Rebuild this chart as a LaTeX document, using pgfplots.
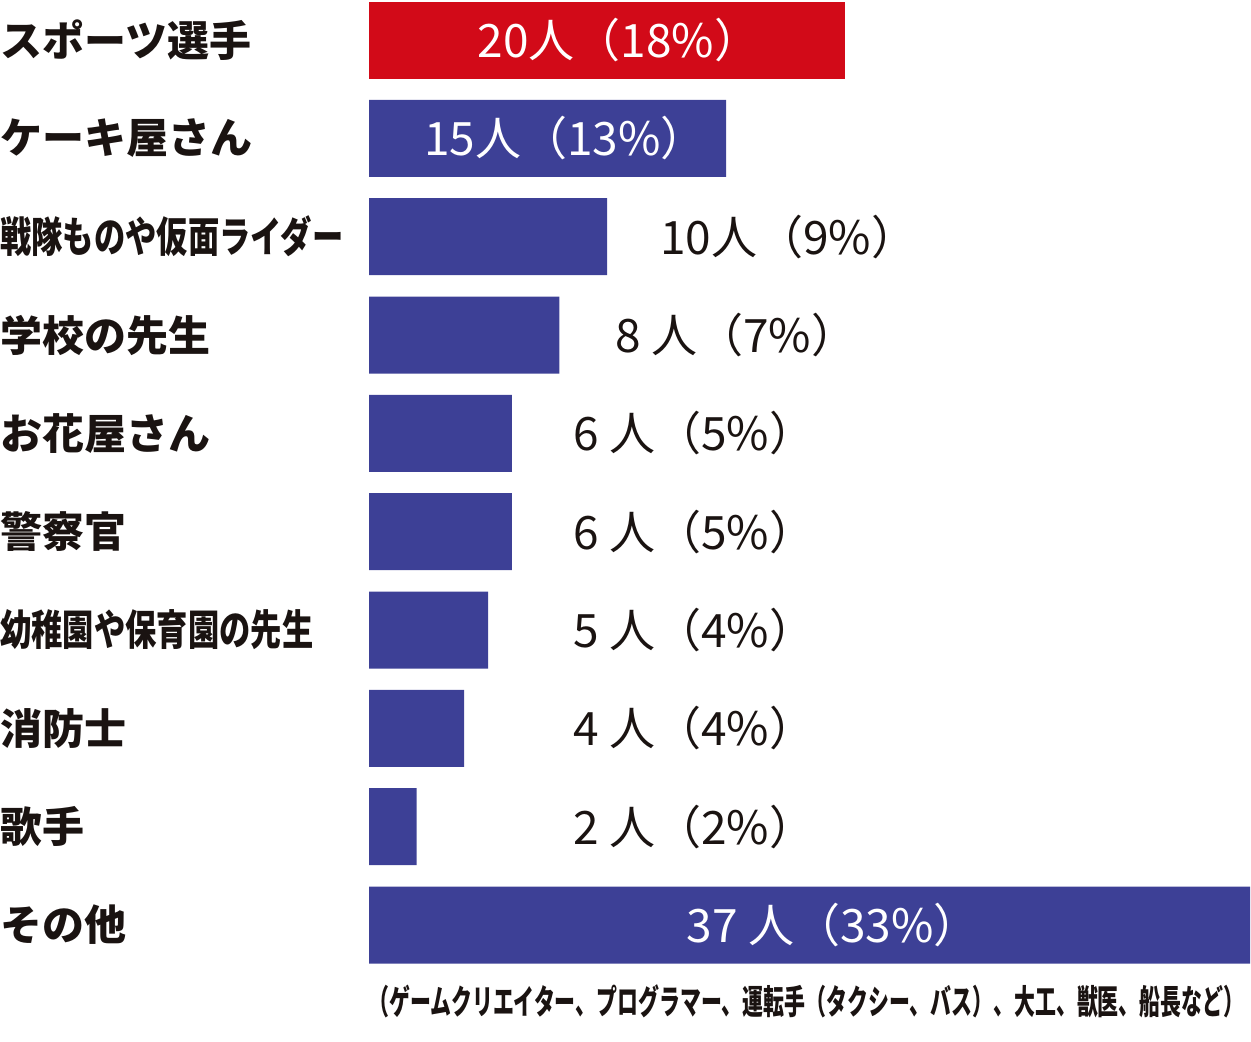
\documentclass[border=0pt]{standalone}
\usepackage{pgfplots}
\pgfplotsset{compat=1.18}
\usepackage{fontspec}
\setmainfont{Noto Sans CJK JP}
\definecolor{barred}{HTML}{D20A18}
\definecolor{barblue}{HTML}{3D4096}
\definecolor{txt}{HTML}{1A1311}
\begin{document}
\begin{tikzpicture}
\useasboundingbox (0,0) rectangle (625.5pt,-521pt);
\begin{axis}[
  at={(184.5pt,0pt)}, anchor=north west,
  scale only axis, width=440.5pt, height=487.1pt,
  xmin=0, xmax=37, ymin=-0.4068, ymax=9.5,
  y dir=reverse, axis lines=none, clip=false,
  xbar, bar width=38.5pt, bar shift=0pt,
]
\addplot[fill=barred, draw=none] coordinates {(20,0)};
\addplot[fill=barblue, draw=none] coordinates {(15,1) (10,2) (8,3) (6,4) (6,5) (5,6) (4,7) (2,8) (37,9)};
% category labels
\begin{scope}[every node/.style={anchor=west, inner sep=0pt, font=\fontsize{21pt}{23pt}\selectfont\bfseries, text=txt}]
\node at ([xshift=-184.5pt]axis cs:0,0) {スポーツ選手};
\node at ([xshift=-184.5pt]axis cs:0,1) {ケーキ屋さん};
\node at ([xshift=-184.5pt]axis cs:0,2) {\scalebox{0.745}[1]{戦隊ものや仮面ライダー}};
\node at ([xshift=-184.5pt]axis cs:0,3) {学校の先生};
\node at ([xshift=-184.5pt]axis cs:0,4) {お花屋さん};
\node at ([xshift=-184.5pt]axis cs:0,5) {警察官};
\node at ([xshift=-184.5pt]axis cs:0,6) {\scalebox{0.745}[1]{幼稚園や保育園の先生}};
\node at ([xshift=-184.5pt]axis cs:0,7) {消防士};
\node at ([xshift=-184.5pt]axis cs:0,8) {歌手};
\node at ([xshift=-184.5pt]axis cs:0,9) {その他};
\end{scope}
% value labels
\begin{scope}[every node/.style={inner sep=0pt, font=\fontsize{23pt}{25pt}\selectfont}]
\node[text=white] at (axis cs:10.5,0) {20人（18\%）};
\node[text=white] at (axis cs:8.25,1) {15人（13\%）};
\node[text=txt, anchor=west] at (axis cs:12.22,2) {10人（9\%）};
\node[text=txt, anchor=west] at (axis cs:10.33,3) {8 人（7\%）};
\node[text=txt, anchor=west] at (axis cs:8.57,4) {6 人（5\%）};
\node[text=txt, anchor=west] at (axis cs:8.57,5) {6 人（5\%）};
\node[text=txt, anchor=west] at (axis cs:8.57,6) {5 人（4\%）};
\node[text=txt, anchor=west] at (axis cs:8.57,7) {4 人（4\%）};
\node[text=txt, anchor=west] at (axis cs:8.57,8) {2 人（2\%）};
\node[text=white] at (axis cs:19.5,9) {37 人（33\%）};
\node[text=txt, anchor=west] at (axis cs:-0.05,9.78) {\fontsize{17pt}{19pt}\selectfont\bfseries\scalebox{0.615}[1]{（ゲームクリエイター、プログラマー、運転手（タクシー、バス）、大工、獣医、船長など）}};
\end{scope}
\end{axis}
\end{tikzpicture}
\end{document}
